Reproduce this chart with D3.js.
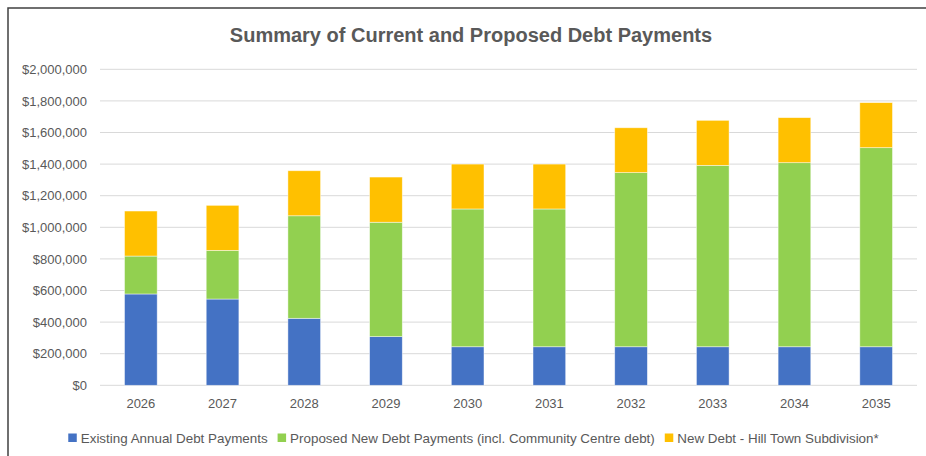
<!DOCTYPE html>
<html>
<head>
<meta charset="utf-8">
<script src="https://cdn.jsdelivr.net/npm/d3@7"></script>
<style>
  html, body { margin: 0; padding: 0; background: #fff; }
  svg { display: block; }
  text { font-family: "Liberation Sans", Arial, sans-serif; fill: #595959; }
</style>
</head>
<body>
<svg id="chart" width="926" height="456"></svg>
<script>
// Debt payment schedule by year
const years = ["2026", "2027", "2028", "2029", "2030", "2031", "2032", "2033", "2034", "2035"];
const existingPayments = [578000, 546000, 424000, 308000, 244000, 244000, 244000, 244000, 244000, 244000];
const proposedPayments = [240000, 308000, 649000, 724000, 872000, 872000, 1102000, 1148000, 1165000, 1260000];
const hillTownPayments = [285000, 285000, 285000, 286000, 284000, 284000, 284000, 285000, 285000, 285000];
const seriesNames = [
  "Existing Annual Debt Payments",
  "Proposed New Debt Payments (incl. Community Centre debt)",
  "New Debt - Hill Town Subdivision*"
];
const seriesColors = ["#4472C4", "#92D050", "#FFC000"];
const yTicks = [0, 200000, 400000, 600000, 800000, 1000000, 1200000, 1400000, 1600000, 1800000, 2000000];

const svg = d3.select("#chart");

// Outer chart frame
svg.append("rect")
  .attr("x", 8).attr("y", 8)
  .attr("width", 940).attr("height", 470)
  .attr("fill", "#fff")
  .attr("stroke", "#404040").attr("stroke-width", 1.5);

const plot = { left: 100, right: 917, top: 69.3, bottom: 385.3 };

const x = d3.scaleBand()
  .domain(years)
  .range([plot.left, plot.right])
  .paddingInner(0.6)
  .paddingOuter(0.3);

const y = d3.scaleLinear()
  .domain([0, 2000000])
  .range([plot.bottom, plot.top]);

// Horizontal gridlines
svg.append("g")
  .selectAll("line")
  .data(yTicks)
  .join("line")
  .attr("x1", plot.left).attr("x2", plot.right)
  .attr("y1", d => y(d)).attr("y2", d => y(d))
  .attr("stroke", "#D9D9D9").attr("stroke-width", 1);

// Stacked bars
const table = years.map((yr, i) => ({
  year: yr,
  existing: existingPayments[i],
  proposed: proposedPayments[i],
  hill: hillTownPayments[i]
}));
const stack = d3.stack().keys(["existing", "proposed", "hill"]);
const layers = stack(table);

svg.append("g")
  .selectAll("g")
  .data(layers)
  .join("g")
  .attr("fill", (d, i) => seriesColors[i])
  .selectAll("rect")
  .data(d => d)
  .join("rect")
  .attr("x", d => x(d.data.year))
  .attr("width", x.bandwidth())
  .attr("y", d => y(d[1]))
  .attr("height", d => y(d[0]) - y(d[1]))
  .attr("stroke", "rgba(255,255,255,0.6)")
  .attr("stroke-width", 0.75);

// Y axis labels
const fmt = d3.format("$,.0f");
const yAxis = d3.axisLeft(y).tickValues(yTicks).tickFormat(fmt).tickSize(0).tickPadding(13);
const gy = svg.append("g")
  .attr("transform", `translate(${plot.left},0)`)
  .call(yAxis);
gy.select(".domain").remove();
gy.selectAll("text")
  .style("font-family", '"Liberation Sans", Arial, sans-serif')
  .style("font-size", "13px")
  .attr("fill", "#595959");

// X axis labels
const xAxis = d3.axisBottom(x).tickSize(0).tickPadding(13);
const gx = svg.append("g")
  .attr("transform", `translate(0,${plot.bottom})`)
  .call(xAxis);
gx.select(".domain").remove();
gx.selectAll("text")
  .style("font-family", '"Liberation Sans", Arial, sans-serif')
  .style("font-size", "13px")
  .attr("fill", "#595959");

// Title
svg.append("text")
  .attr("x", 471).attr("y", 42)
  .attr("text-anchor", "middle")
  .style("font-size", "20px")
  .style("font-weight", "bold")
  .text("Summary of Current and Proposed Debt Payments");

// Legend
const legend = svg.append("g");
const items = legend.selectAll("g")
  .data(seriesNames)
  .join("g");
items.append("rect")
  .attr("width", 8.5).attr("height", 8.5)
  .attr("y", 433.5)
  .attr("fill", (d, i) => seriesColors[i]);
items.append("text")
  .attr("y", 442.5)
  .attr("x", 12.5)
  .style("font-size", "13.4px")
  .text(d => d);

const widths = [];
items.each(function () {
  const w = d3.select(this).select("text").node().getComputedTextLength();
  widths.push(12.5 + w);
});
const gap = 10;
const total = d3.sum(widths) + gap * (widths.length - 1);
let cursor = 473.5 - total / 2;
items.attr("transform", (d, i) => {
  const t = `translate(${cursor},0)`;
  cursor += widths[i] + gap;
  return t;
});
</script>
</body>
</html>
